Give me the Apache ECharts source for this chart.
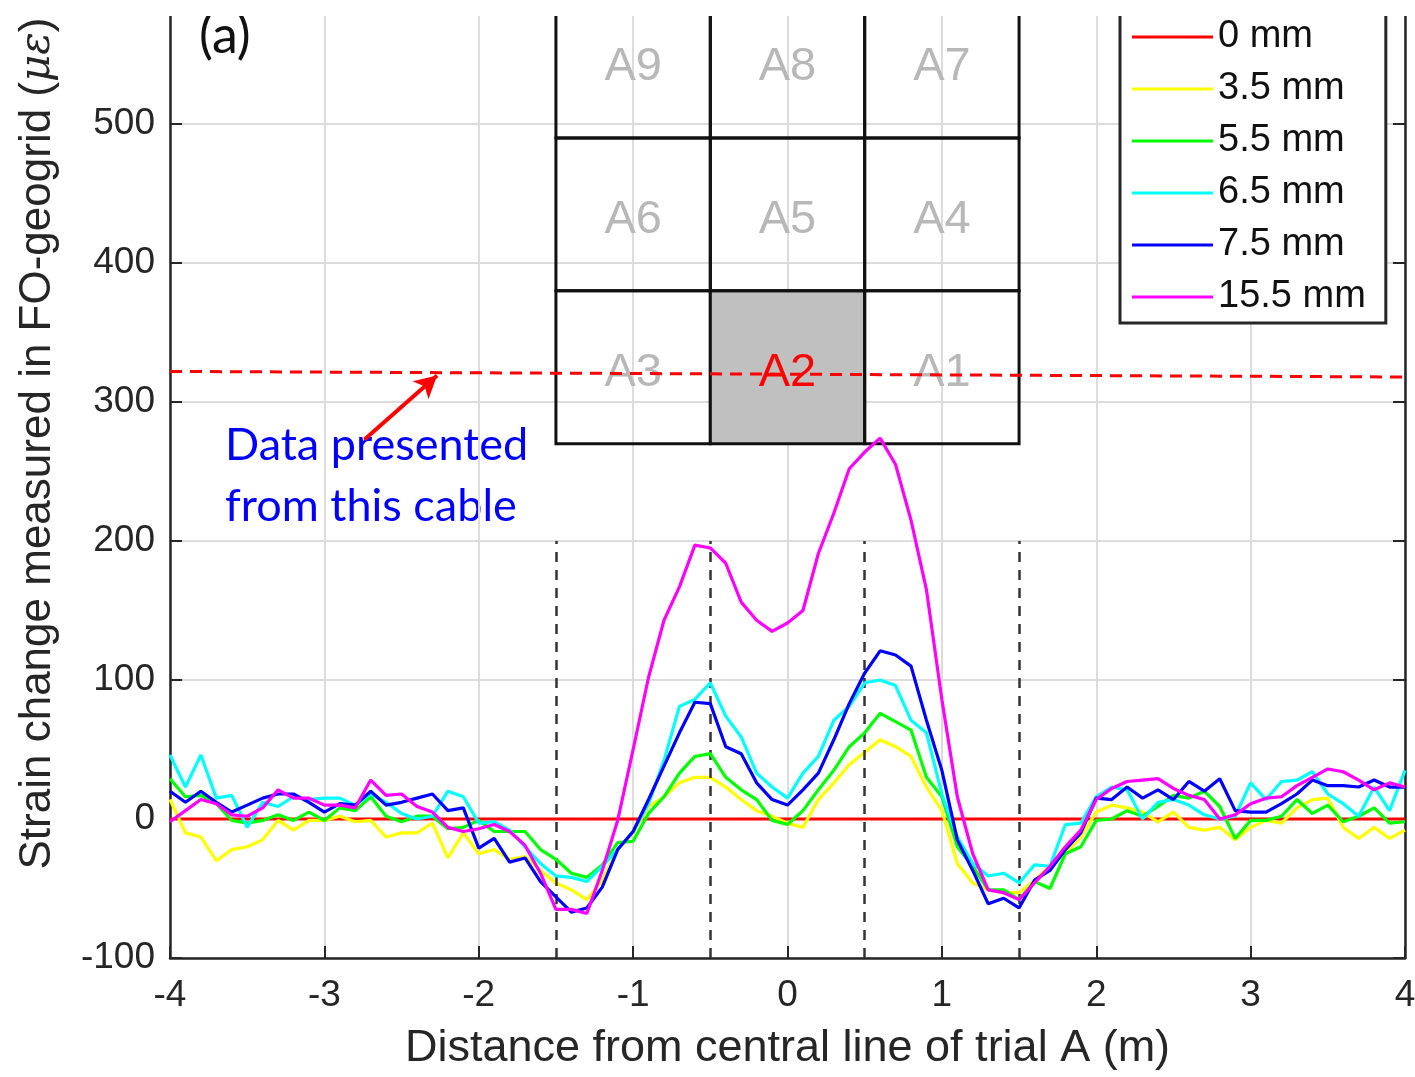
<!DOCTYPE html>
<html>
<head>
<meta charset="utf-8">
<title>Strain change in FO-geogrid</title>
<script src="https://cdn.jsdelivr.net/npm/echarts/dist/echarts.min.js"></script>
<style>
  html, body { margin: 0; padding: 0; background: #fff; }
  #chart { width: 1415px; height: 1077px; }
</style>
</head>
<body>
<div id="chart"></div>
<script>
// distance from central line of trial A (m)
const distance = [
  -4.0, -3.9, -3.8, -3.7, -3.6, -3.5, -3.4, -3.3, -3.2, -3.1,
  -3.0, -2.9, -2.8, -2.7, -2.6, -2.5, -2.4, -2.3, -2.2, -2.1,
  -2.0, -1.9, -1.8, -1.7, -1.6, -1.5, -1.4, -1.3, -1.2, -1.1,
  -1.0, -0.9, -0.8, -0.7, -0.6, -0.5, -0.4, -0.3, -0.2, -0.1,
  0.0, 0.1, 0.2, 0.3, 0.4, 0.5, 0.6, 0.7, 0.8, 0.9,
  1.0, 1.1, 1.2, 1.3, 1.4, 1.5, 1.6, 1.7, 1.8, 1.9,
  2.0, 2.1, 2.2, 2.3, 2.4, 2.5, 2.6, 2.7, 2.8, 2.9,
  3.0, 3.1, 3.2, 3.3, 3.4, 3.5, 3.6, 3.7, 3.8, 3.9,
  4.0
]

// strain change (micro strain) for each settlement
const strain0mm = [
  0, 0, 0, 0, 0, 0, 0, 0, 0, 0,
  0, 0, 0, 0, 0, 0, 0, 0, 0, 0,
  0, 0, 0, 0, 0, 0, 0, 0, 0, 0,
  0, 0, 0, 0, 0, 0, 0, 0, 0, 0,
  0, 0, 0, 0, 0, 0, 0, 0, 0, 0,
  0, 0, 0, 0, 0, 0, 0, 0, 0, 0,
  0, 0, 0, 0, 0, 0, 0, 0, 0, 0,
  0, 0, 0, 0, 0, 0, 0, 0, 0, 0,
  0
]
const strain3p5mm = [
  14, -10, -13, -30, -22, -20, -15, -1, -8, -1,
  -1, 2, -2, -1, -13, -10, -10, -3, -28, -10,
  -25, -22, -29, -27, -37, -46, -51, -58, -44, -22,
  -10, 9, 16, 26, 30, 30, 23, 14, 6, 2,
  -3, -6, 14, 26, 39, 48, 57, 52, 45, 23,
  6, -32, -46, -51, -53, -53, -44, -34, -25, -13,
  5, 10, 8, 5, -2, 5, -6, -8, -6, -15,
  -6, -1, -3, 8, 14, 15, -6, -14, -6, -14,
  -8
]
const strain5p5mm = [
  29, 16, 17, 11, -1, -3, -1, 3, -1, 5,
  -1, 8, 6, 16, 2, -2, 2, 2, -7, -6,
  -1, -9, -9, -9, -22, -29, -39, -42, -33, -17,
  -16, 4, 16, 33, 45, 47, 30, 21, 14, -1,
  -4, 6, 21, 35, 52, 62, 76, 70, 64, 30,
  16, -20, -34, -51, -51, -58, -45, -50, -25, -20,
  -1, 0, 6, 2, 9, 17, 15, 20, 9, -14,
  -1, -1, 2, 14, 4, 10, -2, 2, 8, -3,
  -2
]
const strain6p5mm = [
  46, 23, 46, 15, 17, -6, 12, 9, 16, 14,
  15, 15, 10, 18, 12, 4, 0, 2, 20, 16,
  -3, -2, -8, -20, -32, -41, -42, -45, -34, -22,
  -9, 11, 42, 81, 86, 98, 74, 59, 33, 23,
  15, 33, 45, 71, 81, 98, 100, 96, 71, 62,
  18, -13, -32, -41, -39, -46, -33, -34, -4, -3,
  16, 23, 21, 0, 12, 14, 10, 3, 0, 2,
  26, 14, 27, 28, 34, 18, 11, 2, 23, 6,
  35
]
const strain7p5mm = [
  20, 12, 20, 12, 5, 10, 15, 18, 18, 12,
  5, 11, 10, 20, 10, 12, 15, 18, 6, 8,
  -21, -14, -31, -28, -45, -56, -67, -64, -49, -22,
  -9, 14, 38, 62, 84, 83, 52, 47, 26, 14,
  10, 21, 33, 57, 83, 105, 121, 118, 110, 71,
  35, -15, -37, -61, -57, -64, -44, -37, -22, -10,
  15, 14, 23, 15, 21, 14, 27, 20, 29, 6,
  5, 5, 11, 18, 28, 24, 24, 23, 28, 23,
  23
]
const strain15p5mm = [
  -2, 6, 14, 11, 3, 2, 8, 21, 15, 15,
  10, 10, 8, 28, 17, 18, 9, 5, -6, -9,
  -7, -4, -9, -19, -39, -65, -65, -68, -37, -1,
  50, 102, 143, 167, 197, 195, 184, 156, 143, 135,
  141, 150, 191, 220, 252, 264, 274, 255, 215, 165,
  86, 16, -25, -51, -53, -58, -46, -34, -20, -8,
  14, 22, 27, 28, 29, 22, 17, 14, 0, 3,
  11, 15, 16, 24, 30, 36, 34, 28, 21, 26,
  23
]

const seriesNames = ['0 mm', '3.5 mm', '5.5 mm', '6.5 mm', '7.5 mm', '15.5 mm']
const seriesValues = [strain0mm, strain3p5mm, strain5p5mm, strain6p5mm, strain7p5mm, strain15p5mm]
const lineColor = ['#ff0000', '#ffff00', '#00ff00', '#00ffff', '#0000ff', '#ff00ff']

// geogrid cells (inset sketch), edges in axis units
const cellEdgesX = [-1.5, -0.5, 0.5, 1.5]
const cellEdgesY = [270, 380, 490, 600]
const cellLabels = [
  ['A3', 'A2', 'A1'],
  ['A6', 'A5', 'A4'],
  ['A9', 'A8', 'A7']
]
const cableCell = 'A2'
const cellDashTop = 200
const cableLineY = [322, 318]
const arrowFrom = [-2.74, 273]
const arrowTo = [-2.27, 319]

const fontArial = '"Liberation Sans", Arial, sans-serif'
const fontCalibri = 'Lato, "Open Sans", sans-serif'
const axisColor = '#262626'

const cellData = []
for (let r = 0; r < cellLabels.length; r++) {
  for (let c = 0; c < cellLabels[r].length; c++) {
    cellData.push([c, r])
  }
}

const chart = echarts.init(document.getElementById('chart'))

const seriesData = []
for (let i = 0; i < seriesNames.length; i++) {
  seriesData.push({
    name: seriesNames[i],
    type: 'line',
    data: distance.map((d, k) => [d, seriesValues[i][k]]),
    showSymbol: false,
    lineStyle: { color: lineColor[i], width: 3.2 },
    itemStyle: { color: lineColor[i] },
    z: 3 + i
  })
}

// inset grid of cells
seriesData.push({
  name: 'cells',
  type: 'custom',
  clip: true,
  z: 2,
  silent: true,
  data: cellData,
  renderItem: function(params, api) {
    const col = api.value(0)
    const row = api.value(1)
    const p0 = api.coord([cellEdgesX[col], cellEdgesY[row + 1]])
    const p1 = api.coord([cellEdgesX[col + 1], cellEdgesY[row]])
    const label = cellLabels[row][col]
    const isCable = label === cableCell
    return {
      type: 'group',
      children: [
        {
          type: 'rect',
          shape: { x: p0[0], y: p0[1], width: p1[0] - p0[0], height: p1[1] - p0[1] },
          style: { fill: isCable ? '#c0c0c0' : 'none', stroke: '#111', lineWidth: 3 }
        },
        {
          type: 'text',
          x: (p0[0] + p1[0]) / 2,
          y: (p0[1] + p1[1]) / 2 + 6,
          style: {
            text: label,
            fill: isCable ? '#ff0000' : '#b8b8b8',
            font: '47px ' + fontArial,
            align: 'center',
            verticalAlign: 'middle'
          }
        }
      ]
    }
  }
})

// dashed guide lines + cable marker + arrow
const dashLines = cellEdgesX.map(x => [
  { coord: [x, -100], lineStyle: { color: '#333', type: [10, 8], width: 2.5 } },
  { coord: [x, cellDashTop] }
])
seriesData.push({
  name: 'annot',
  type: 'line',
  data: [],
  z: 10,
  markLine: {
    silent: true,
    animation: false,
    symbol: 'none',
    label: { show: false },
    data: dashLines.concat([
      [
        { coord: [-4, cableLineY[0]], lineStyle: { color: '#ff0000', type: [12, 8], width: 3 } },
        { coord: [4, cableLineY[1]] }
      ],
      [
        { coord: arrowFrom, symbol: 'none', lineStyle: { color: '#ff0000', type: 'solid', width: 4 } },
        { coord: arrowTo, symbol: 'arrow', symbolSize: [18, 22] }
      ]
    ])
  }
})

const option = {
  animation: false,
  backgroundColor: '#fff',
  grid: {
    left: 170,
    right: 10,
    top: -15,
    bottom: 119,
    outerBoundsMode: 'none'
  },
  legend: {
    data: seriesNames,
    orient: 'vertical',
    left: 1120,
    top: -8,
    padding: [25, 20, 6, 12],
    itemWidth: 81,
    itemHeight: 3,
    itemGap: 12,
    icon: 'rect',
    selectedMode: false,
    backgroundColor: '#fff',
    borderColor: axisColor,
    borderWidth: 3,
    borderRadius: 0,
    textStyle: { fontSize: 38, lineHeight: 40, color: '#111', fontFamily: fontArial }
  },
  graphic: [
    {
      // the figure is cropped just under its top edge
      type: 'rect',
      left: 0,
      top: 0,
      z: 100,
      shape: { width: 1415, height: 16 },
      style: { fill: '#fff' }
    },
    {
      type: 'text',
      left: 199,
      top: 10,
      style: { text: '(a)', font: '52px ' + fontCalibri, fill: '#111' }
    },
    {
      type: 'text',
      left: 225,
      top: 415,
      style: {
        text: 'Data presented\nfrom this cable',
        font: '45px ' + fontCalibri,
        lineHeight: 61,
        fill: '#0000ff'
      }
    }
  ],
  xAxis: {
    type: 'value',
    min: -4,
    max: 4,
    interval: 1,
    name: 'Distance from central line of trial A (m)',
    nameLocation: 'middle',
    nameGap: 68,
    nameTextStyle: { fontSize: 45, color: axisColor, fontFamily: fontArial },
    axisLine: { show: true, onZero: false, lineStyle: { color: axisColor, width: 2.5 } },
    axisTick: { show: true, inside: true, length: 12, lineStyle: { color: axisColor, width: 2 } },
    axisLabel: { fontSize: 37, color: axisColor, margin: 19, fontFamily: fontArial },
    splitLine: { show: true, lineStyle: { color: '#dcdcdc', width: 2 } }
  },
  yAxis: [
    {
      type: 'value',
      min: -100,
      max: 600,
      interval: 100,
      position: 'left',
      name: 'Strain change measured in FO-geogrid ({g|με})',
      nameLocation: 'middle',
      nameGap: 110,
      nameTextStyle: {
        fontSize: 44,
        color: axisColor,
        fontFamily: fontArial,
        padding: [0, 0, 0, 56],
        rich: {
          g: { fontSize: 42, fontStyle: 'italic', color: axisColor, fontFamily: '"DejaVu Serif", serif' }
        }
      },
      axisLine: { show: true, onZero: false, lineStyle: { color: axisColor, width: 2.5 } },
      axisTick: { show: true, inside: true, length: 12, lineStyle: { color: axisColor, width: 2 } },
      axisLabel: { fontSize: 37, color: axisColor, margin: 15, fontFamily: fontArial },
      splitLine: { show: true, lineStyle: { color: '#dcdcdc', width: 2 } }
    },
    {
      type: 'value',
      min: -100,
      max: 600,
      interval: 100,
      position: 'right',
      axisLine: { show: true, onZero: false, lineStyle: { color: axisColor, width: 2.5 } },
      axisTick: { show: true, inside: true, length: 12, lineStyle: { color: axisColor, width: 2 } },
      axisLabel: { show: false },
      splitLine: { show: false }
    }
  ],
  series: seriesData
}

chart.setOption(option)
window.onresize = () => {
  chart.resize()
}
</script>
</body>
</html>
